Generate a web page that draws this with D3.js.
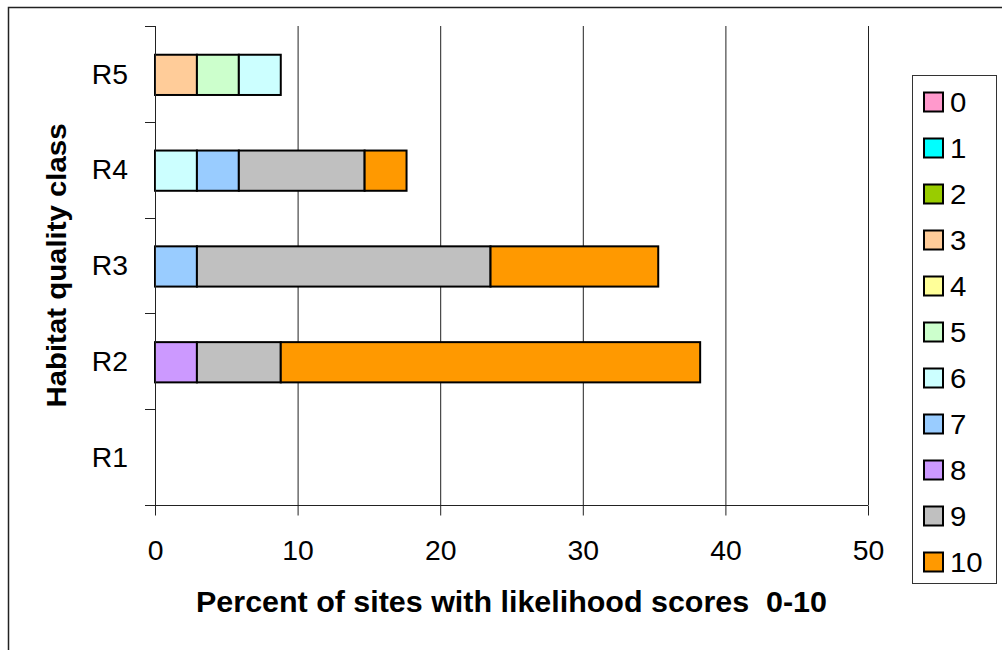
<!DOCTYPE html>
<html>
<head>
<meta charset="utf-8">
<script src="https://cdn.jsdelivr.net/npm/d3@7/dist/d3.min.js"></script>
<style>
  html, body { margin: 0; padding: 0; background: #fff; }
  svg { display: block; }
  text { font-family: "Liberation Sans", Arial, sans-serif; fill: #000; }
</style>
</head>
<body>
<svg id="chart" width="1002" height="650"></svg>
<script>
// Habitat quality classes, bottom to top
const classes = ["R1", "R2", "R3", "R4", "R5"];
// Likelihood scores (stack order, left to right)
const scores = ["0", "1", "2", "3", "4", "5", "6", "7", "8", "9", "10"];
const scoreColors = ["#FF99CC", "#00FFFF", "#99CC00", "#FFCC99", "#FFFF99",
                     "#CCFFCC", "#CCFFFF", "#99CCFF", "#CC99FF", "#C0C0C0", "#FF9900"];

// Percent of sites per score, one array per class (scores 0..10)
const r1 = [0, 0, 0, 0,    0, 0,    0,    0,    0,    0,     0];
const r2 = [0, 0, 0, 0,    0, 0,    0,    0,    2.94, 5.88,  29.41];
const r3 = [0, 0, 0, 0,    0, 0,    0,    2.94, 0,    20.59, 11.76];
const r4 = [0, 0, 0, 0,    0, 0,    2.94, 2.94, 0,    8.82,  2.94];
const r5 = [0, 0, 0, 2.94, 0, 2.94, 2.94, 0,    0,    0,     0];

const xTicks = [0, 10, 20, 30, 40, 50];

const rows = [r1, r2, r3, r4, r5].map((vals, i) => {
  const o = { cls: classes[i] };
  scores.forEach((s, j) => { o[s] = vals[j]; });
  return o;
});

// text is drawn slightly wide
const WIDEN = 1.05;

const svg = d3.select("#chart");

// outer frame (runs off the right and bottom edges)
svg.append("rect")
  .attr("x", 8.5).attr("y", 7.5)
  .attr("width", 1200).attr("height", 1000)
  .attr("fill", "none").attr("stroke", "#222").attr("stroke-width", 1.5);

const plot = { left: 155, right: 868, top: 26, bottom: 505 };

const x = d3.scaleLinear().domain([0, 50]).range([plot.left, plot.right]);
const y = d3.scaleBand()
  .domain(classes.slice().reverse())
  .range([plot.top, plot.bottom])
  .padding(0);

// vertical gridlines
svg.append("g")
  .selectAll("line")
  .data(xTicks.filter(t => t > 0))
  .join("line")
  .attr("x1", d => x(d) + 0.5).attr("x2", d => x(d) + 0.5)
  .attr("y1", plot.top).attr("y2", plot.bottom)
  .attr("stroke", "#222").attr("stroke-width", 1);

// stacked bars
const stack = d3.stack().keys(scores);
const layers = stack(rows);
const bw = y.bandwidth();
const barH = bw * 0.42;

svg.append("g")
  .selectAll("g")
  .data(layers)
  .join("g")
  .attr("fill", (d, i) => scoreColors[i])
  .selectAll("rect")
  .data(d => d.filter(p => p[1] - p[0] > 0))
  .join("rect")
  .attr("x", p => x(p[0]))
  .attr("width", p => x(p[1]) - x(p[0]))
  .attr("y", p => y(p.data.cls) + bw * 0.3)
  .attr("height", barH)
  .attr("stroke", "#000")
  .attr("stroke-width", 2);

// x axis
const xAxis = d3.axisBottom(x).tickValues(xTicks).tickSize(10).tickPadding(0);
const gx = svg.append("g")
  .attr("transform", `translate(0,${plot.bottom + 0.5})`)
  .call(xAxis);
gx.select(".domain").attr("d", `M${plot.left - 10},0H${plot.right}`).attr("stroke", "#222");
gx.selectAll(".tick line").attr("stroke", "#222");
gx.selectAll(".tick text")
  .attr("y", null).attr("dy", null)
  .attr("transform", `translate(0,54) scale(${WIDEN},1)`)
  .attr("font-size", 27)
  .style("font-family", '"Liberation Sans", Arial, sans-serif');

// y axis: ticks at band boundaries, labels centred in bands
const yEdges = [plot.top].concat(classes.map(c => y(c) + bw));
const gy = svg.append("g");
gy.append("line")
  .attr("x1", plot.left + 0.5).attr("x2", plot.left + 0.5)
  .attr("y1", plot.top).attr("y2", plot.bottom)
  .attr("stroke", "#222");
gy.selectAll("line.edge")
  .data(yEdges)
  .join("line")
  .attr("class", "edge")
  .attr("x1", plot.left - 10).attr("x2", plot.left)
  .attr("y1", d => Math.round(d) + 0.5).attr("y2", d => Math.round(d) + 0.5)
  .attr("stroke", "#222");
gy.selectAll("text")
  .data(classes)
  .join("text")
  .attr("transform", d => `translate(128,${y(d) + bw / 2}) scale(${WIDEN},1)`)
  .attr("dy", "0.36em")
  .attr("text-anchor", "end")
  .attr("font-size", 27)
  .text(d => d);

// axis titles
svg.append("text")
  .attr("transform", `translate(${(plot.left + plot.right) / 2},612) scale(${WIDEN},1)`)
  .attr("text-anchor", "middle")
  .attr("font-size", 29)
  .attr("font-weight", "bold")
  .text("Percent of sites with likelihood scores\u00a0\u00a00-10");

svg.append("text")
  .attr("transform", `translate(66,${(plot.top + plot.bottom) / 2}) rotate(-90) scale(${WIDEN},1)`)
  .attr("text-anchor", "middle")
  .attr("font-size", 28)
  .attr("font-weight", "bold")
  .text("Habitat quality class");

// legend
const legend = svg.append("g");
legend.append("rect")
  .attr("x", 912.5).attr("y", 75.5)
  .attr("width", 84).attr("height", 508)
  .attr("fill", "#fff").attr("stroke", "#333").attr("stroke-width", 1);

const leg = d3.scalePoint().domain(scores).range([102, 562]);
const items = legend.selectAll("g.item")
  .data(scores)
  .join("g")
  .attr("class", "item")
  .attr("transform", d => `translate(0,${leg(d)})`);
items.append("rect")
  .attr("x", 924).attr("y", -9.5)
  .attr("width", 19).attr("height", 19)
  .attr("fill", (d, i) => scoreColors[i])
  .attr("stroke", "#000").attr("stroke-width", 2);
items.append("text")
  .attr("transform", `translate(950,0) scale(${WIDEN},1)`)
  .attr("dy", "0.36em")
  .attr("font-size", 28)
  .text(d => d);
</script>
</body>
</html>
